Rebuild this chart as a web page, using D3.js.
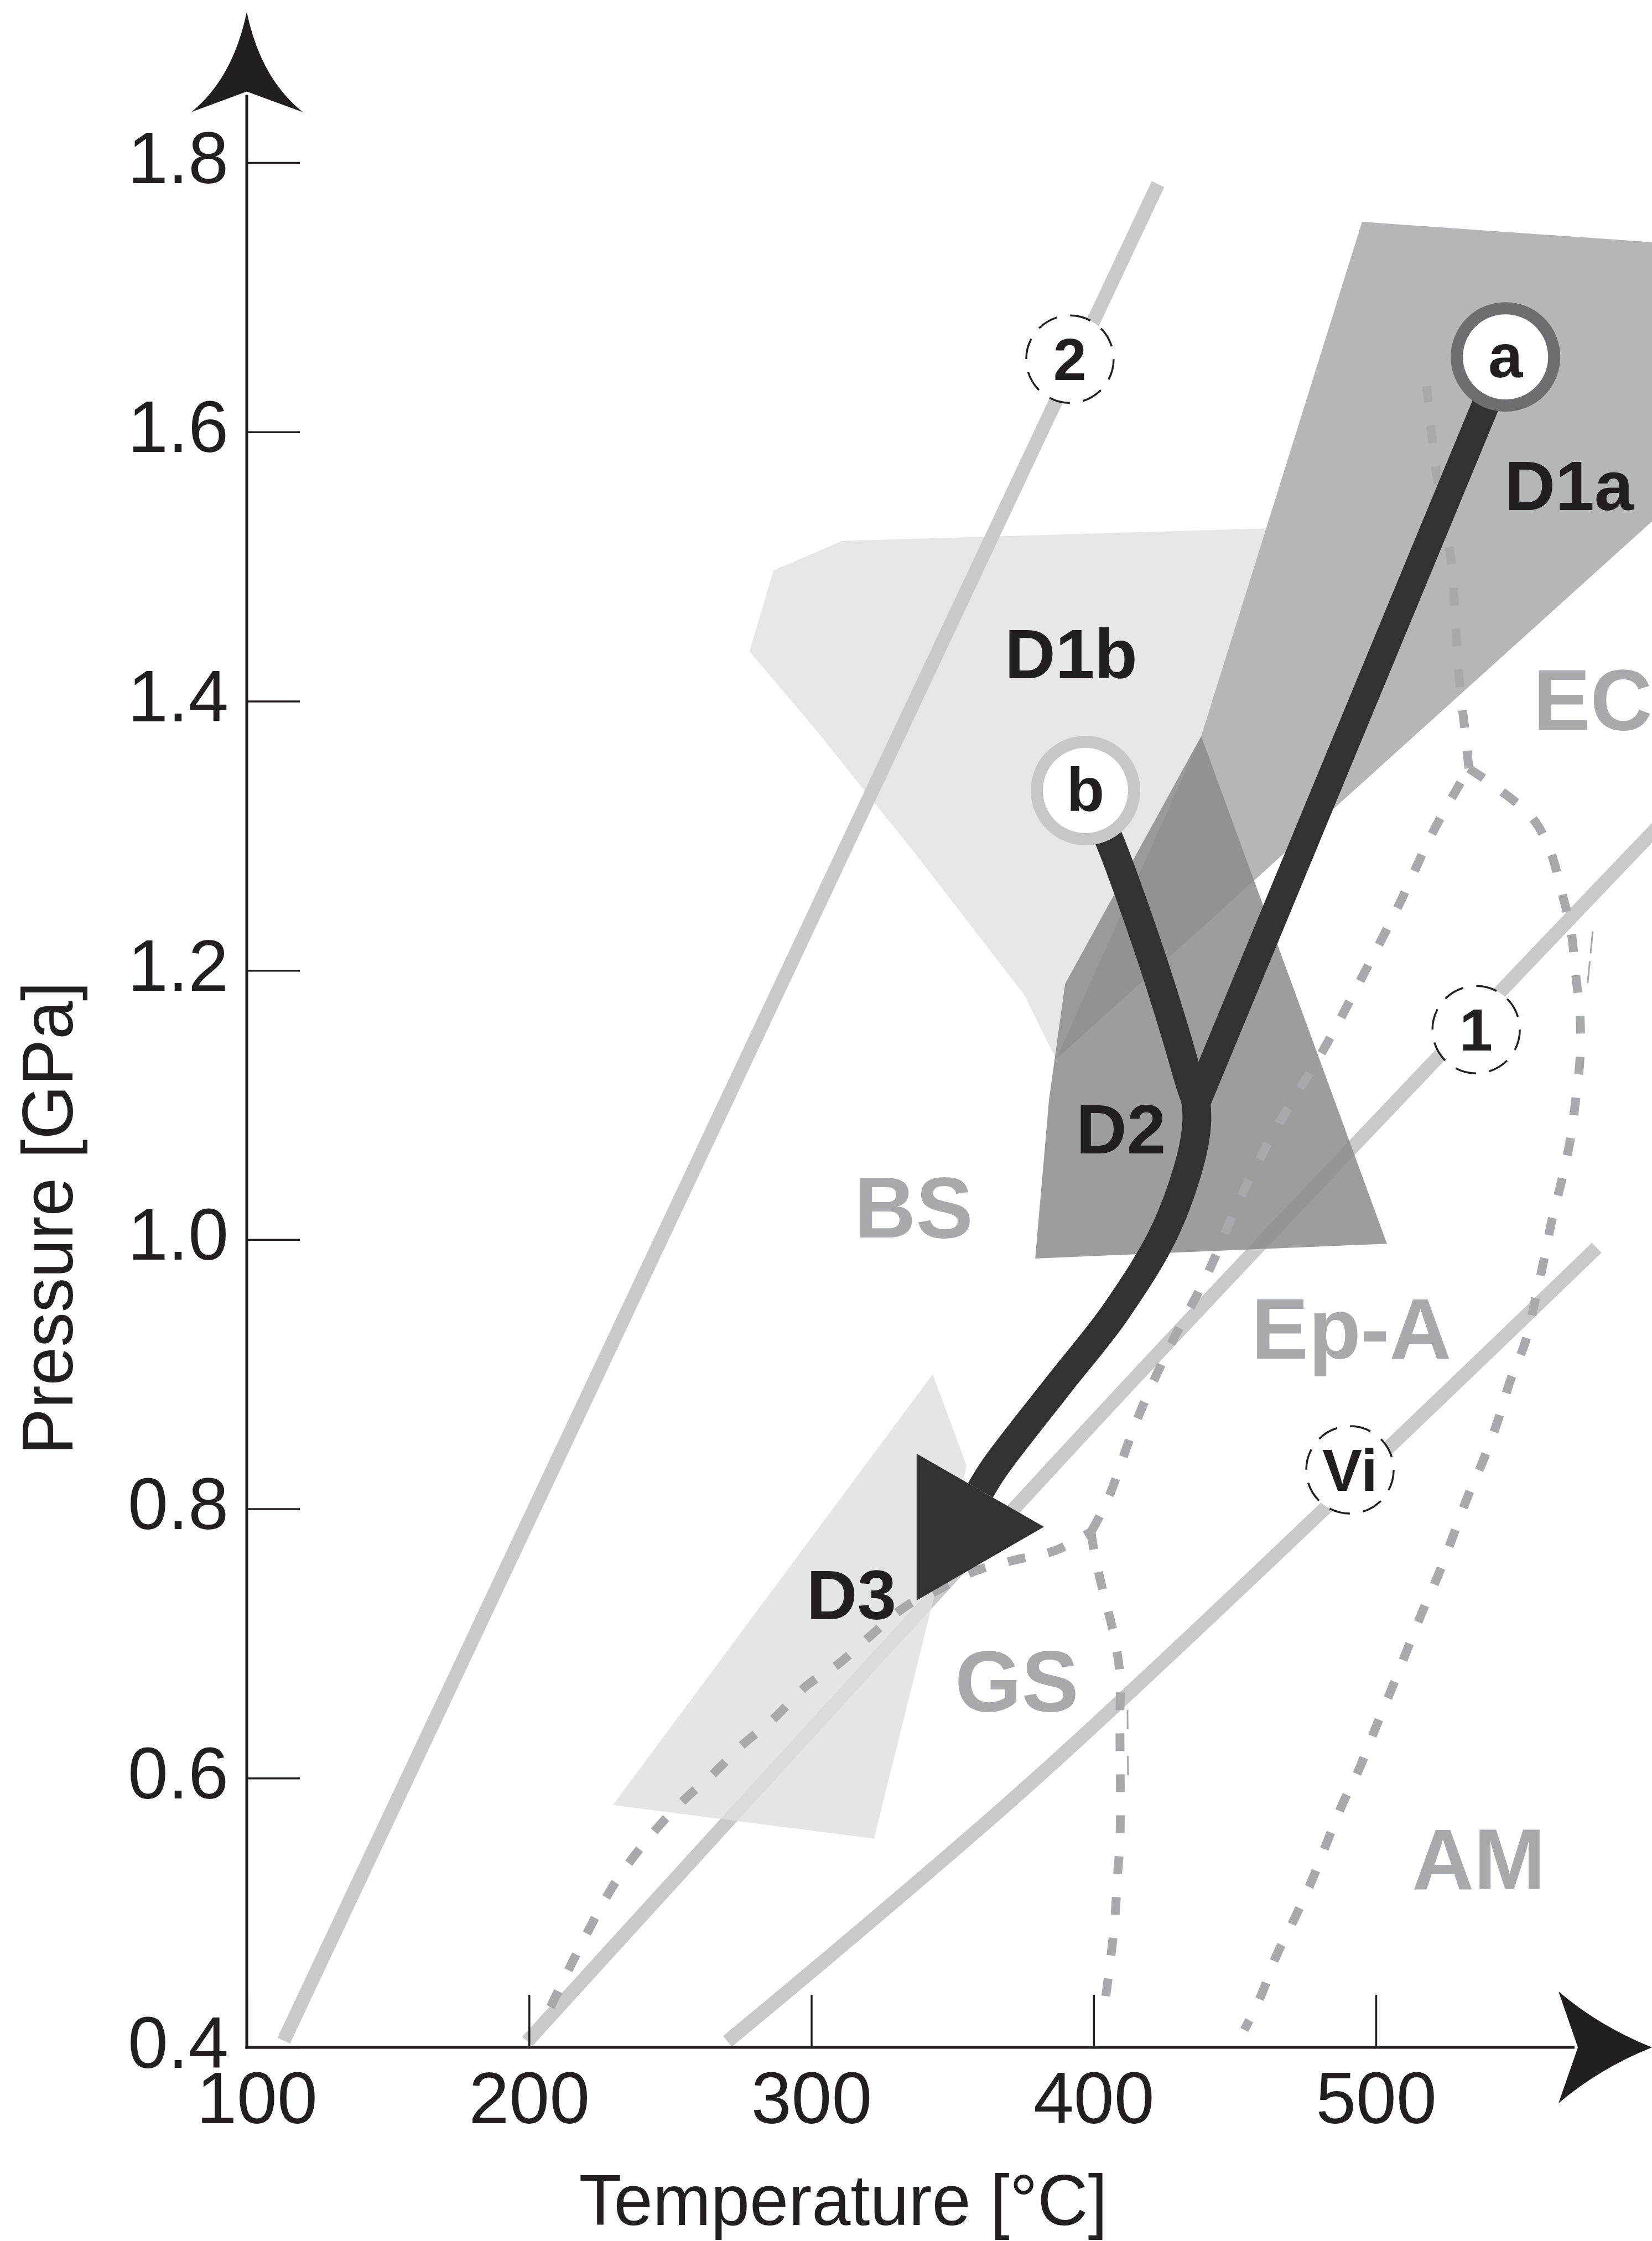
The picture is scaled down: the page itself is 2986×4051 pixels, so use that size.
<!DOCTYPE html>
<html><head><meta charset="utf-8">
<script src="https://cdn.jsdelivr.net/npm/d3@7"></script>
<style>html,body{margin:0;padding:0;background:#fff}svg{display:block}</style>
</head><body>
<svg id="c" width="2986" height="4051"></svg>
<script>
// ---------- data (Temperature °C, Pressure GPa) ----------
const xTicks = [100, 200, 300, 400, 500];
const xTickLabels = ["100", "200", "300", "400", "500"];
const yTicks = [0.4, 0.6, 0.8, 1.0, 1.2, 1.4, 1.6, 1.8];
const yTickLabels = ["0.4", "0.6", "0.8", "1.0", "1.2", "1.4", "1.6", "1.8"];

// shaded fields
const fieldD1b = [[286.6,1.497],[310.9,1.519],[473.0,1.529],[438.1,1.374],[386.7,1.134],[375.4,1.182],[337.1,1.286],[301.5,1.379],[278.1,1.437]];
const fieldD1a = [[495.1,1.756],[625.0,1.737],[625.0,1.585],[386.7,1.134],[438.1,1.374]];
const fieldD2  = [[438.1,1.374],[503.9,0.997],[379.3,0.986],[384.2,1.104],[389.9,1.190]];
const fieldD3  = [[343.0,0.900],[355.0,0.832],[322.2,0.555],[229.7,0.580]];

// geotherms (solid light lines)
const geotherm2  = [[113.1,0.405],[422.8,1.784]];
const geotherm1  = [[199.4,0.4045],[413.0,0.8935],[600.0,1.307]];
const geothermVi = [[270.3,0.4045],[380.8,0.602],[578.2,0.994]];

// facies boundaries (dashed)
const boundaryA = [[207.6,0.430],[229.5,0.519],[244.6,0.561],[255.0,0.584],[265.6,0.604],[275.2,0.624],[286.6,0.644],[298.5,0.669],[309.1,0.684],[321.1,0.706],[333.0,0.727],[345.0,0.740],[356.9,0.753],[372.0,0.762],[386.3,0.769],[399.1,0.783]];
const boundaryB = [[399.1,0.783],[404.8,0.806],[415.3,0.866],[427.3,0.922],[440.0,0.973],[452.6,1.034],[466.1,1.088],[481.4,1.141],[495.1,1.195],[508.0,1.248],[520.0,1.302],[532.9,1.350]];
const boundaryC = [[532.9,1.350],[532.1,1.368],[529.6,1.415],[526.9,1.498],[525.7,1.518],[521.2,1.573],[518.0,1.634]];
const boundaryD = [[532.9,1.350],[543.3,1.335],[555.5,1.313],[561.7,1.289],[565.8,1.258],[569.0,1.231],[570.7,1.198],[572.3,1.166],[572.3,1.135],[570.7,1.103],[569.0,1.076],[565.8,1.044],[562.5,1.016],[559.4,0.984],[556.2,0.953],[552.9,0.924],[547.4,0.894],[543.1,0.865],[538.0,0.836],[532.5,0.809],[527.0,0.778],[522.1,0.751],[516.5,0.724],[511.0,0.695],[505.5,0.666],[499.8,0.637],[494.3,0.608],[488.2,0.581],[482.6,0.552],[477.1,0.523],[471.0,0.495],[464.5,0.467],[459.4,0.439],[453.4,0.413]];
const boundaryE = [[399.1,0.783],[400.2,0.768],[403.4,0.738],[407.1,0.707],[409.3,0.677],[409.3,0.644],[409.3,0.552],[408.5,0.529],[407.5,0.495],[405.9,0.464],[404.0,0.433],[403.4,0.423]];
const hairline1 = [[576.8,1.229],[574.9,1.1885]];
const hairline2 = [[412.0,0.6507],[412.2,0.5927]];

// P-T path
const pathA = [[545.9,1.6557],[436.3,1.101]];
const pathB = [[397.1,1.3336],[405.3,1.298],[418.5,1.222],[427.9,1.1606],[434.2,1.1154],[436.3,1.101],[435.7,1.0723],[425.9,1.0094],[407.9,0.9465],[388.1,0.8935],[365.2,0.8315],[359.9,0.8138]];
const arrowHead = [[337.3,0.841],[382.4,0.7867],[337.3,0.732]];

// markers
const startPoints = [{k:"a", t:545.9, p:1.6557, ring:"#6d6e71"}, {k:"b", t:397.1, p:1.3336, ring:"#c6c7c9"}];
const geothermMarks = [{k:"2", t:391.6, p:1.654}, {k:"1", t:535.5, p:1.156}, {k:"Vi", t:490.8, p:0.829}];

// labels
const stageLabels = [{k:"D1a", t:568.4, p:1.542}, {k:"D1b", t:392.0, p:1.417}, {k:"D2", t:409.7, p:1.064}, {k:"D3", t:314.2, p:0.718}];
const faciesLabels = [{k:"EC", t:555.7, p:1.379, a:"start"}, {k:"BS", t:336.2, p:1.0016, a:"middle"}, {k:"Ep-A", t:491.3, p:0.9116, a:"middle"}, {k:"GS", t:372.8, p:0.6498, a:"middle"}, {k:"AM", t:536.4, p:0.5175, a:"middle"}];

const axisTopP = 1.912, axisRightT = 597.8;

// ---------- drawing ----------
const W = 2986, H = 4051;
const x = d3.scaleLinear().domain([100, 500]).range([446, 2487]);
const y = d3.scaleLinear().domain([0.4, 1.8]).range([3701, 294]);
const svg = d3.select("#c");
svg.append("rect").attr("width", W).attr("height", H).attr("fill", "#fff");

const FONT = "'Liberation Sans', Arial, Helvetica, sans-serif";
const INK = "#231f20";
const line = d3.line().x(d => x(d[0])).y(d => y(d[1]));
const smooth = d3.line().x(d => x(d[0])).y(d => y(d[1])).curve(d3.curveCatmullRom.alpha(0.5));
const poly = pts => "M" + pts.map(d => x(d[0]) + "," + y(d[1])).join("L") + "Z";

// fields
svg.append("path").attr("d", poly(fieldD1b)).attr("fill", "#e6e6e6");
svg.append("path").attr("d", poly(fieldD1a)).attr("fill", "#b5b6b8");

// geotherms
[geotherm2, geotherm1, geothermVi].forEach(g => {
  svg.append("path").attr("d", smooth(g)).attr("fill", "none")
    .attr("stroke", "#c8c9cb").attr("stroke-width", 25);
});

svg.append("path").attr("d", poly(fieldD2)).attr("fill", "rgb(140,140,140)").attr("fill-opacity", 0.85);
svg.append("path").attr("d", poly(fieldD3)).attr("fill", "rgb(222,223,225)").attr("fill-opacity", 0.82);

// dashed boundaries
[boundaryA, boundaryB, boundaryC, boundaryD, boundaryE].forEach(b => {
  svg.append("path").attr("d", smooth(b)).attr("fill", "none")
    .attr("stroke", "#a7a9ac").attr("stroke-width", 16).attr("stroke-dasharray", "32,42");
});
svg.append("path").attr("d", line(hairline1)).attr("fill", "none").attr("stroke", "#a7a9ac").attr("stroke-width", 3).attr("stroke-dasharray", "40,14");
svg.append("path").attr("d", line(hairline2)).attr("fill", "none").attr("stroke", "#a7a9ac").attr("stroke-width", 3).attr("stroke-dasharray", "35,48");

// geotherm markers
const gm = svg.append("g").selectAll("g").data(geothermMarks).join("g")
  .attr("transform", d => `translate(${x(d.t)},${y(d.p)})`);
gm.append("circle").attr("r", 79).attr("fill", "#fff").attr("stroke", INK)
  .attr("stroke-width", 3.5).attr("stroke-dasharray", "38,24");
gm.append("text").text(d => d.k).attr("text-anchor", "middle").attr("dy", "0.35em")
  .attr("font-family", FONT).attr("font-weight", "bold").attr("font-size", 108).attr("fill", INK);

// facies labels
svg.append("g").selectAll("text").data(faciesLabels).join("text")
  .attr("x", d => x(d.t)).attr("y", d => y(d.p)).attr("text-anchor", d => d.a)
  .attr("font-family", FONT).attr("font-weight", "bold").attr("font-size", 155)
  .attr("fill", "#a7a9ac").text(d => d.k);

// P-T path
const PT = "#313332";
svg.append("path").attr("d", line(pathA)).attr("fill", "none").attr("stroke", PT)
  .attr("stroke-width", 50).attr("stroke-linecap", "round");
svg.append("path").attr("d", smooth(pathB)).attr("fill", "none").attr("stroke", PT)
  .attr("stroke-width", 52).attr("stroke-linejoin", "round");
svg.append("path").attr("d", poly(arrowHead)).attr("fill", PT);

// start points
const sp = svg.append("g").selectAll("g").data(startPoints).join("g")
  .attr("transform", d => `translate(${x(d.t)},${y(d.p)})`);
sp.append("circle").attr("r", 88).attr("fill", "#fff").attr("stroke", d => d.ring).attr("stroke-width", 22);
sp.append("text").text(d => d.k).attr("text-anchor", "middle").attr("dy", "0.33em")
  .attr("font-family", FONT).attr("font-weight", "bold").attr("font-size", 112).attr("fill", INK);

// stage labels
svg.append("g").selectAll("text").data(stageLabels).join("text")
  .attr("x", d => x(d.t)).attr("y", d => y(d.p)).attr("text-anchor", "middle")
  .attr("font-family", FONT).attr("font-weight", "bold").attr("font-size", 127)
  .attr("fill", INK).text(d => d.k);

// ---------- axes ----------
const x0 = x(100), y0 = y(0.4);
const gx = svg.append("g").attr("transform", `translate(0,${y0})`)
  .call(d3.axisBottom(x).tickValues(xTicks).tickFormat((d, i) => xTickLabels[i])
    .tickSizeInner(-95).tickSizeOuter(0).tickPadding(0));
gx.select(".domain").remove();
gx.selectAll(".tick line").attr("stroke", INK).attr("stroke-width", 3.5);
gx.selectAll(".tick text").attr("y", 137).attr("dy", null)
  .attr("dx", (d, i) => i === 0 ? 18 : 0)
  .attr("font-family", FONT).attr("font-size", 131).attr("fill", INK);

const gy = svg.append("g").attr("transform", `translate(${x0},0)`)
  .call(d3.axisLeft(y).tickValues(yTicks).tickFormat((d, i) => yTickLabels[i])
    .tickSizeInner(-96).tickSizeOuter(0).tickPadding(33));
gy.select(".domain").remove();
gy.selectAll(".tick line").attr("stroke", INK).attr("stroke-width", 3.5);
gy.selectAll(".tick text").attr("dy", null).attr("y", 36)
  .attr("font-family", FONT).attr("font-size", 131).attr("fill", INK);

// axis lines with arrows
const topY = y(axisTopP), rightX = x(axisRightT);
svg.append("line").attr("x1", x0).attr("x2", x0).attr("y1", y0 + 2.5).attr("y2", topY + 150)
  .attr("stroke", INK).attr("stroke-width", 5);
svg.append("line").attr("x1", x0 - 2.5).attr("x2", rightX - 140).attr("y1", y0).attr("y2", y0)
  .attr("stroke", INK).attr("stroke-width", 5);
svg.append("path").attr("fill", INK).attr("d",
  `M${x0},${topY} Q${x0 - 25},${topY + 120} ${x0 - 100},${topY + 181} L${x0},${topY + 144} L${x0 + 101},${topY + 181} Q${x0 + 25},${topY + 120} ${x0},${topY} Z`);
svg.append("path").attr("fill", INK).attr("d",
  `M${rightX},${y0} Q${rightX - 95},${y0 - 38} ${rightX - 169},${y0 - 101} L${rightX - 134},${y0} L${rightX - 169},${y0 + 101} Q${rightX - 95},${y0 + 38} ${rightX},${y0} Z`);

// axis titles
svg.append("text").attr("x", 1524).attr("y", 4022).attr("text-anchor", "middle")
  .attr("font-family", FONT).attr("font-size", 130).attr("fill", INK)
  .attr("textLength", 955).attr("lengthAdjust", "spacingAndGlyphs").text("Temperature [°C]");
svg.append("text").attr("transform", "translate(131,2202) rotate(-90)").attr("text-anchor", "middle")
  .attr("font-family", FONT).attr("font-size", 130).attr("fill", INK)
  .attr("textLength", 855).attr("lengthAdjust", "spacingAndGlyphs").text("Pressure [GPa]");
</script>
</body></html>
